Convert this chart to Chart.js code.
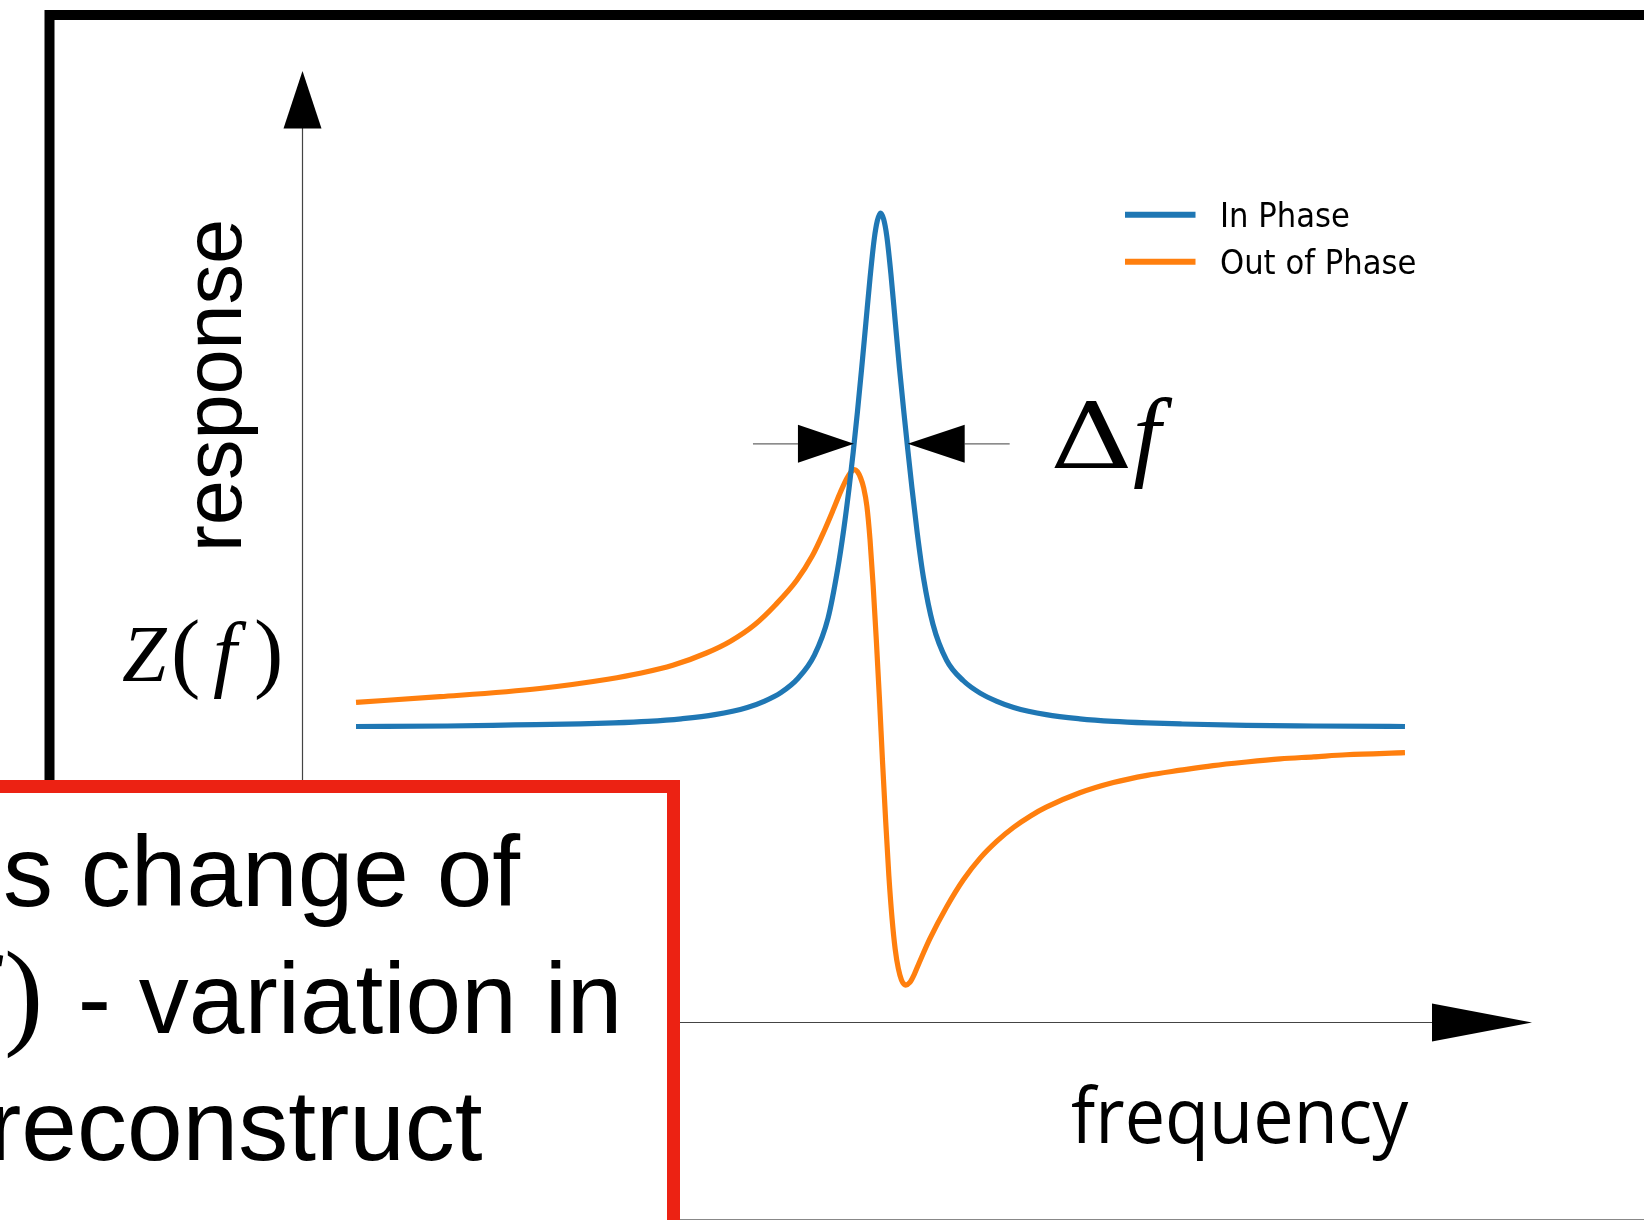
<!DOCTYPE html>
<html>
<head>
<meta charset="utf-8">
<title>Resonance response</title>
<script src="https://cdn.jsdelivr.net/npm/chart.js@4.4.1/dist/chart.umd.min.js"></script>
<style>
  html, body { margin: 0; padding: 0; background: #fff; }
  canvas { display: block; }
</style>
</head>
<body>
<canvas id="resonance" width="1644" height="1220"></canvas>
<script>
// frequency axis in arbitrary units, response normalised to the in-phase peak
const inPhaseFreq = [0.00, 0.87, 1.51, 2.14, 2.46, 2.78, 3.10, 3.42, 3.73, 3.89, 4.05, 4.21, 4.37, 4.50,
  4.59, 4.65, 4.70, 4.74, 4.78, 4.82, 4.86, 4.90, 4.94, 4.97, 5.00, 5.03, 5.06, 5.10, 5.14, 5.18,
  5.22, 5.26, 5.30, 5.35, 5.41, 5.50, 5.63, 5.79, 5.95, 6.11, 6.27, 6.58, 6.90, 7.22, 7.54, 7.86,
  8.49, 9.13, 10.0];
const inPhaseResp = [0.001, 0.002, 0.004, 0.006, 0.008, 0.011, 0.016, 0.024, 0.038, 0.050, 0.067, 0.094, 0.140, 0.212,
  0.305, 0.385, 0.464, 0.535, 0.613, 0.697, 0.785, 0.873, 0.949, 0.985, 1.000, 0.988, 0.955, 0.880, 0.790, 0.700,
  0.618, 0.540, 0.465, 0.378, 0.290, 0.200, 0.130, 0.090, 0.066, 0.050, 0.038, 0.024, 0.016, 0.011, 0.008, 0.006,
  0.003, 0.002, 0.001];

const outPhaseFreq = [0.00, 0.80, 1.75, 2.40, 2.72, 3.02, 3.34, 3.57, 3.80, 4.00, 4.20, 4.35, 4.46, 4.55,
  4.62, 4.68, 4.72, 4.75, 4.78, 4.81, 4.84, 4.87, 4.90, 4.93, 4.96, 4.99, 5.02, 5.05, 5.08, 5.11,
  5.14, 5.17, 5.20, 5.24, 5.28, 5.32, 5.37, 5.47, 5.63, 5.79, 5.95, 6.11, 6.27, 6.43, 6.58, 6.90,
  7.22, 7.54, 7.86, 8.17, 8.49, 8.81, 9.13, 9.44, 10.0];
const outPhaseResp = [0.048, 0.059, 0.075, 0.093, 0.105, 0.120, 0.144, 0.167, 0.199, 0.238, 0.285, 0.333, 0.380, 0.423,
  0.458, 0.484, 0.496, 0.501, 0.497, 0.485, 0.465, 0.430, 0.365, 0.275, 0.170, 0.055, -0.070, -0.185, -0.290, -0.372,
  -0.432, -0.470, -0.492, -0.502, -0.497, -0.482, -0.458, -0.412, -0.350, -0.297, -0.255, -0.222, -0.195, -0.173, -0.156, -0.128,
  -0.108, -0.094, -0.084, -0.075, -0.068, -0.062, -0.058, -0.054, -0.050];

// edges of the in-phase peak marked by the delta-f arrows, and the level they sit at
const halfWidthMarks = [4.747, 5.259];
const halfWidthLevel = 0.551;

const seriesLabels = ['In Phase', 'Out of Phase'];
const seriesColors = ['#1f77b4', '#ff7f0e'];

const boxLines = ['s change of', ' - variation in', 'reconstruct'];

function toPoints(xs, ys) {
  return xs.map((v, i) => ({ x: v, y: ys[i] }));
}

function line(ctx, x1, y1, x2, y2) {
  ctx.beginPath();
  ctx.moveTo(x1, y1);
  ctx.lineTo(x2, y2);
  ctx.stroke();
}

function tri(ctx, pts) {
  ctx.beginPath();
  ctx.moveTo(pts[0][0], pts[0][1]);
  ctx.lineTo(pts[1][0], pts[1][1]);
  ctx.lineTo(pts[2][0], pts[2][1]);
  ctx.closePath();
  ctx.fill();
}

// hand-drawn style axes, labels, legend and the red call-out box
const overlay = {
  id: 'overlay',
  afterDraw(chart) {
    const { ctx, chartArea: area, scales } = chart;
    ctx.save();

    // slide frame
    ctx.strokeStyle = '#000';
    ctx.lineWidth = 10;
    ctx.strokeRect(49.5, 15, 1800, 1400);
    ctx.strokeStyle = '#888';
    ctx.lineWidth = 1;
    line(ctx, 0, 1219.5, 1644, 1219.5);

    // axes with arrow heads
    const ax = area.left + 0.5, ay = area.bottom + 0.5;
    ctx.strokeStyle = '#444';
    ctx.lineWidth = 1.2;
    line(ctx, ax, ay, ax, area.top + 57);
    line(ctx, ax, ay, area.right - 100, ay);
    ctx.fillStyle = '#000';
    tri(ctx, [[ax, area.top], [ax - 19, area.top + 57.5], [ax + 19, area.top + 57.5]]);
    tri(ctx, [[area.right, ay], [area.right - 100, ay - 19], [area.right - 100, ay + 19]]);

    // delta-f arrows
    const ly = scales.y.getPixelForValue(halfWidthLevel);
    const xl = scales.x.getPixelForValue(halfWidthMarks[0]);
    const xr = scales.x.getPixelForValue(halfWidthMarks[1]);
    ctx.strokeStyle = '#666';
    ctx.lineWidth = 1.3;
    line(ctx, xl - 101, ly, xl - 56, ly);
    line(ctx, xr + 57, ly, xr + 102, ly);
    tri(ctx, [[xl, ly], [xl - 56, ly - 19], [xl - 56, ly + 19]]);
    tri(ctx, [[xr, ly], [xr + 57, ly - 19], [xr + 57, ly + 19]]);

    ctx.fillStyle = '#000';
    ctx.textBaseline = 'alphabetic';
    ctx.textAlign = 'left';
    ctx.save();
    ctx.translate(1050, 468);
    ctx.scale(1.25, 1);
    ctx.font = '92px "DejaVu Serif"';
    ctx.fillText('\u0394', 0, 0);
    ctx.restore();
    ctx.font = 'italic 100px "Liberation Serif"';
    ctx.fillText('f', 1133, 468);

    // Z(f) label
    ctx.font = 'italic 80px "Liberation Serif"';
    ctx.fillText('Z', 122, 681);
    ctx.font = 'italic 85px "Liberation Serif"';
    ctx.fillText('f', 213, 681);
    ctx.font = '88px "Liberation Serif"';
    ctx.fillText('(', 171, 681);
    ctx.fillText(')', 254, 681);

    // axis titles
    ctx.save();
    ctx.translate(240.5, 385.5);
    ctx.rotate(-Math.PI / 2);
    ctx.textAlign = 'center';
    ctx.font = '81px "Liberation Sans"';
    ctx.fillText('response', 0, 0);
    ctx.restore();

    ctx.save();
    ctx.translate(1071, 1142.5);
    ctx.scale(0.935, 1);
    ctx.font = '77px "Open Sans"';
    ctx.fillText('frequency', 0, 0);
    ctx.restore();

    // legend
    const legendY = [214.7, 261.8];
    chart.data.datasets.forEach((ds, i) => {
      ctx.strokeStyle = ds.borderColor;
      ctx.lineWidth = 6;
      line(ctx, 1125, legendY[i], 1195.5, legendY[i]);
      ctx.save();
      ctx.translate(1220, legendY[i] + 12.3);
      ctx.scale(0.93, 1);
      ctx.fillStyle = '#000';
      ctx.font = '33px "DejaVu Sans"';
      ctx.fillText(ds.label, 0, 0);
      ctx.restore();
    });

    // red call-out box
    ctx.fillStyle = '#fff';
    ctx.fillRect(-50, 786.5, 723.5, 500);
    ctx.strokeStyle = '#ec2213';
    ctx.lineWidth = 13;
    ctx.strokeRect(-50, 786.5, 723.5, 600);

    ctx.fillStyle = '#000';
    ctx.font = '100px "Liberation Sans"';
    ctx.fillText(boxLines[0], 3, 906);
    ctx.fillText(boxLines[1], 50, 1033);
    ctx.fillText(boxLines[2], -12, 1160);
    ctx.font = 'italic 110px "Liberation Serif"';
    ctx.fillText('f', -40, 1033);
    ctx.font = '118px "Liberation Serif"';
    ctx.fillText(')', 4, 1033);

    ctx.restore();
  }
};

new Chart(document.getElementById('resonance'), {
  type: 'line',
  data: {
    datasets: [
      {
        label: seriesLabels[0],
        data: toPoints(inPhaseFreq, inPhaseResp),
        borderColor: seriesColors[0],
        borderWidth: 5.2,
        pointRadius: 0,
        cubicInterpolationMode: 'monotone',
        fill: false
      },
      {
        label: seriesLabels[1],
        data: toPoints(outPhaseFreq, outPhaseResp),
        borderColor: seriesColors[1],
        borderWidth: 5.2,
        pointRadius: 0,
        cubicInterpolationMode: 'monotone',
        fill: false
      }
    ]
  },
  options: {
    responsive: false,
    animation: false,
    layout: { padding: { left: 302, top: 71, right: 112, bottom: 198 } },
    scales: {
      x: { type: 'linear', min: -0.515, max: 11.211, display: false },
      y: { min: -0.5739, max: 1.2763, display: false }
    },
    plugins: {
      legend: { display: false },
      tooltip: { enabled: false }
    }
  },
  plugins: [overlay]
});
</script>
</body>
</html>
